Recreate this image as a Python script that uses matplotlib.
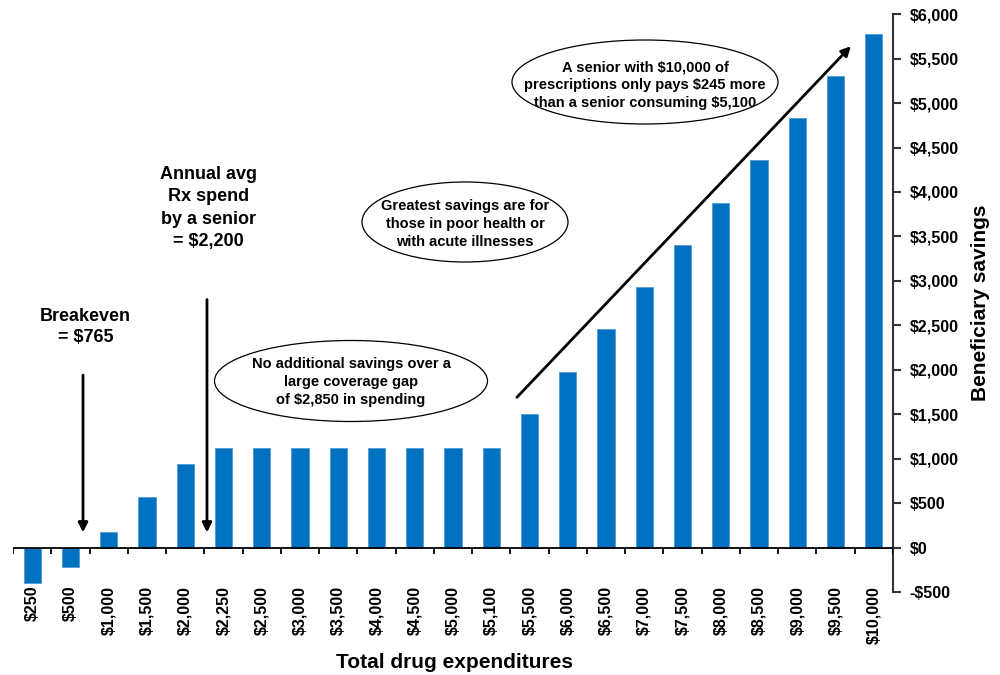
import matplotlib
matplotlib.use("Agg")
import matplotlib.pyplot as plt
from matplotlib.patches import Ellipse
from matplotlib.ticker import FuncFormatter
import numpy as np

plt.rcParams['font.family'] = ['Liberation Sans', 'DejaVu Sans']
plt.rcParams['font.weight'] = 'bold'

categories = ["$250", "$500", "$1,000", "$1,500", "$2,000", "$2,250", "$2,500",
              "$3,000", "$3,500", "$4,000", "$4,500", "$5,000", "$5,100",
              "$5,500", "$6,000", "$6,500", "$7,000", "$7,500", "$8,000",
              "$8,500", "$9,000", "$9,500", "$10,000"]
savings = [-395, -215, 180, 563, 935, 1125, 1125, 1125, 1125, 1125, 1125, 1125,
           1125, 1500, 1970, 2455, 2928, 3400, 3875, 4355, 4830, 5305, 5778]
y_ticks = list(range(-500, 6001, 500))

BLUE = "#0070C0"

fig = plt.figure(figsize=(10, 6.75), dpi=100)
ax = fig.add_axes([0.013, 0.123, 0.880, 0.856])

x = np.arange(len(categories))
ax.bar(x, savings, width=0.45, color=BLUE, edgecolor="#4f9bd6", linewidth=0.6, zorder=2)

ax.set_xlim(-0.5, len(categories) - 0.5)
ax.set_ylim(-500, 6000)

# right-hand value axis
for s in ("left", "top", "bottom"):
    ax.spines[s].set_visible(False)
ax.spines["right"].set_color("#333333")
ax.spines["right"].set_linewidth(1.5)
ax.yaxis.tick_right()
ax.yaxis.set_label_position("right")
ax.set_yticks(y_ticks)
ax.yaxis.set_major_formatter(FuncFormatter(
    lambda v, p: f"-${abs(int(v)):,}" if v < 0 else f"${int(v):,}"))
ax.tick_params(axis="y", direction="out", length=6, width=1.5, color="#333333",
               labelsize=11.5, pad=6)
for lbl in ax.get_yticklabels():
    lbl.set_fontweight("bold")
ax.set_ylabel("Beneficiary savings", fontsize=15, fontweight="bold", labelpad=9)

# category axis drawn along zero
ax.set_xticks([])
ax.axhline(0, color="black", linewidth=1.3, zorder=3)
bounds = np.arange(len(categories) + 1) - 0.5
ax.vlines(bounds, -70, 0, color="black", linewidth=1.3, zorder=3)
for xi, c in zip(x, categories):
    ax.text(xi, -430, c, rotation=90, ha="center", va="top", fontsize=11.5,
            fontweight="bold")
fig.text(0.455, 0.019, "Total drug expenditures", ha="center", va="center",
         fontsize=15, fontweight="bold")

# side notes
ax.text(1.4, 2480, "Breakeven\n= $765", ha="center", va="center", fontsize=13,
        fontweight="bold", linespacing=1.3)
ax.text(4.6, 3820, "Annual avg\nRx spend\nby a senior\n= $2,200", ha="center",
        va="center", fontsize=13, fontweight="bold", linespacing=1.42)

arrow = dict(arrowstyle="-|>", color="black", lw=2, mutation_scale=14,
             shrinkA=0, shrinkB=0)
ax.annotate("", xy=(1.33, 170), xytext=(1.33, 1940), arrowprops=arrow)
ax.annotate("", xy=(4.57, 170), xytext=(4.57, 2790), arrowprops=arrow)
ax.annotate("", xy=(21.4, 5640), xytext=(12.67, 1690), arrowprops=arrow)

# callout ovals: (centre px, text centre px, width px, height px, text)
notes = [
    ((351, 381), 382, 273, 81,
     "No additional savings over a\nlarge coverage gap\nof $2,850 in spending"),
    ((465, 222), 224, 206, 80,
     "Greatest savings are for\nthose in poor health or\nwith acute illnesses"),
    ((645, 82), 85, 266, 84,
     "A senior with $10,000 of\nprescriptions only pays $245 more\nthan a senior consuming $5,100"),
]
W, H = 1000.0, 675.0
for (cx, cy), ty, w, h, txt in notes:
    fig.patches.append(Ellipse((cx / W, 1 - cy / H), w / W, h / H,
                               transform=fig.transFigure, facecolor="white",
                               edgecolor="black", lw=0.9, zorder=4))
    fig.text(cx / W, 1 - ty / H, txt, ha="center", va="center", fontsize=10.5,
             fontweight="bold", linespacing=1.35, zorder=5)

fig.savefig("out.png", dpi=100)
